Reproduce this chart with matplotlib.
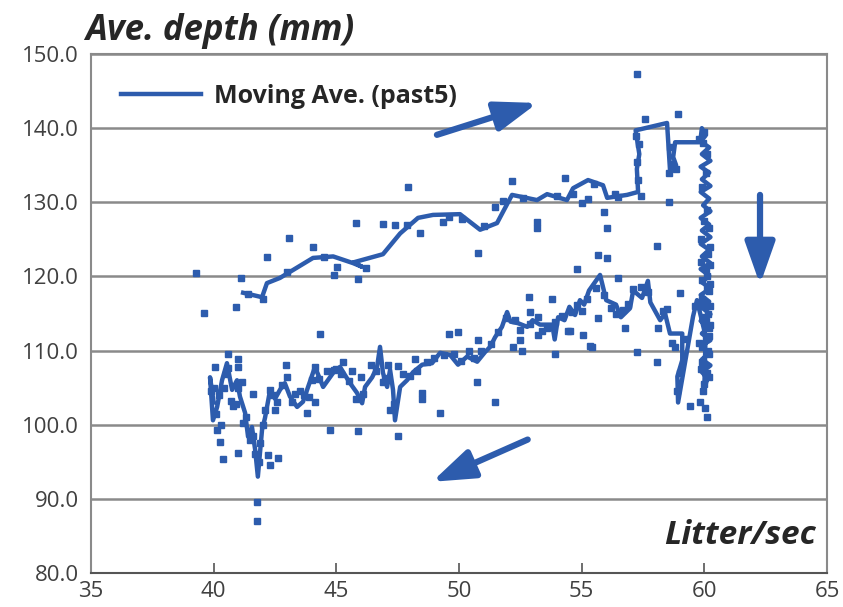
import matplotlib
matplotlib.use("Agg")
import matplotlib.pyplot as plt

plt.rcParams['font.family'] = ['Open Sans', 'DejaVu Sans']

BLUE = '#2d5cad'

# measured depth samples (flow in L/s, depth in mm)
dep_x = [57.26, 57.58, 58.93, 52.16, 54.32, 51.8, 55.26, 47.92, 54.65, 56.36,
         51.47, 55.0, 55.9, 58.56, 53.18, 53.18, 56.04, 48.41, 46.9, 47.39,
         49.35, 50.12, 50.78, 58.07, 55.67, 56.04, 54.81, 56.48, 52.86, 53.79,
         59.01, 58.48, 45.8, 43.07, 44.05, 42.17, 39.28, 41.11, 45.03, 44.9,
         45.88, 39.6, 40.91, 44.34, 49.6, 49.96, 50.78, 52.9, 52.49, 52.2,
         53.22, 53.9, 54.44, 55.06, 55.42, 55.67, 56.77, 41.0, 41.0, 40.58,
         40.06, 42.95, 45.27, 45.64, 44.13, 41.16, 41.6, 48.49, 48.49, 50.74,
         51.47, 49.23, 47.5, 47.1, 44.13, 42.3, 43.8, 40.14, 40.26, 40.38,
         41.0, 42.2, 42.62, 42.3, 44.74, 45.88, 47.5, 41.77, 41.77, 57.1,
         54.53, 55.34, 57.26, 58.07, 59.42, 59.83, 60.03, 60.1, 52.57,
         # along the 60 L/s drop
         60.0, 59.95, 60.1, 60.05, 59.9, 60.1, 60.0, 59.85, 60.15, 60.05,
         59.9, 60.2, 60.1, 59.95, 60.2, 60.05, 60.15, 59.9, 60.1, 60.0,
         59.95, 60.2, 60.1, 59.9, 60.25, 60.2, 59.85, 60.25, 60.15, 59.8,
         60.25, 60.2, 59.85, 60.1, 60.25, 59.9, 60.2, 60.05, 59.85, 60.25,
         58.6, 58.7, 58.55, 58.85, 57.3, 57.25, 57.35, 57.2, 59.8, 57.4,
         # rising branch
         43.0, 44.5, 46.2, 47.9, 49.6, 51.0, 52.6, 54.0, 55.5, 56.5, 42.0, 41.4,
         # falling branch
         58.8, 58.9, 59.2, 58.3, 57.7, 56.9, 56.2, 55.6, 55.0, 54.2,
         53.6, 52.9, 52.3, 51.9, 51.3, 50.6, 50.1, 49.4, 48.7, 48.0,
         47.35, 47.0, 46.6, 46.1, 45.5, 44.9, 44.3, 43.7, 43.2, 42.8,
         42.4, 42.0, 41.85, 41.6, 41.3, 41.0, 40.6, 40.4, 40.1, 39.9,
         40.3, 40.7, 42.5, 43.5, 46.0, 48.3, 50.4, 53.4, 54.8, 56.4,
         40.2, 40.5, 40.8, 41.2, 41.5, 41.9, 42.1, 42.6, 43.0, 43.3,
         43.9, 44.6, 45.2, 45.8, 46.4, 46.9, 47.7, 48.2, 49.0, 49.8,
         50.9, 51.6, 52.5, 53.2, 53.9, 54.6, 55.2, 55.9, 56.7, 57.4,
         58.1, 58.7, 59.0, 59.6, 40.0, 40.9, 41.7, 44.0, 45.0, 47.2]
dep_y = [147.3, 141.3, 141.9, 132.9, 133.3, 130.2, 130.5, 132.0, 131.1, 131.1,
         129.4, 129.9, 128.7, 130.0, 126.6, 127.3, 126.5, 125.8, 127.1, 127.0,
         127.4, 127.8, 123.2, 124.1, 122.9, 122.5, 121.0, 119.8, 117.2, 117.0,
         117.8, 115.6, 127.2, 125.2, 124.0, 122.6, 120.5, 119.8, 121.3, 120.2,
         119.7, 115.1, 115.9, 112.2, 112.2, 112.5, 111.4, 115.2, 111.4, 110.5,
         112.1, 109.6, 112.7, 112.1, 110.5, 114.4, 113.1, 108.8, 107.8, 109.5,
         107.8, 108.0, 108.5, 107.2, 107.8, 105.7, 104.1, 104.3, 103.5, 105.8,
         103.1, 101.6, 107.9, 108.0, 103.1, 104.7, 101.6, 99.3, 97.7, 95.4,
         96.2, 95.9, 95.5, 94.6, 99.3, 99.1, 98.5, 89.6, 87.0, 118.3,
         112.6, 110.6, 109.8, 108.4, 102.5, 103.1, 102.3, 101.1, 109.9,
         139.5, 138.0, 136.5, 134.0, 132.0, 129.0, 127.5, 125.0, 123.0, 121.0,
         119.5, 118.0, 116.0, 114.5, 113.0, 111.5, 110.0, 108.5, 107.0, 105.5,
         104.5, 112.0, 120.0, 117.0, 124.0, 126.5, 122.0, 119.0, 115.0, 111.0,
         113.5, 109.5, 116.5, 118.5, 121.5, 110.5, 106.5, 114.0, 107.5, 116.0,
         137.5, 135.2, 134.0, 134.5, 133.0, 135.5, 137.8, 139.0, 138.6, 130.8,
         120.6, 122.6, 121.1, 127.0, 128.0, 126.8, 130.6, 130.8, 132.5, 130.7, 117.0, 117.6,
         110.5, 104.5, 111.5, 115.3, 117.9, 116.3, 115.8, 118.4, 115.4, 114.6,
         113.0, 113.6, 114.1, 114.4, 110.9, 109.0, 108.6, 109.4, 108.4, 106.6,
         102.8, 106.3, 107.3, 104.2, 105.9, 107.4, 106.2, 104.0, 103.1, 105.3,
         104.0, 100.0, 95.0, 98.5, 101.0, 104.9, 107.6, 105.0, 101.5, 104.5,
         100.0, 103.2, 102.0, 104.5, 106.5, 107.3, 110.0, 112.6, 116.2, 114.9,
         104.0, 106.8, 102.5, 100.2, 98.0, 97.5, 102.0, 103.0, 106.5, 104.2,
         103.8, 107.2, 106.8, 103.5, 108.0, 105.8, 106.8, 108.8, 109.0, 109.5,
         110.0, 112.5, 112.8, 114.5, 113.8, 115.2, 117.0, 117.5, 115.5, 118.6,
         113.0, 111.0, 107.0, 116.0, 105.0, 102.8, 96.0, 106.0, 107.5, 102.0]

# moving average of the past 5 samples, in time order
ma_x = [41.2, 41.97, 42.17, 42.7, 44.05, 44.87, 45.68, 46.05, 45.7, 46.9,
        47.6, 48.33, 48.94, 50.04, 50.86, 51.55, 52.16, 53.18, 53.59, 54.4,
        54.65, 55.26, 55.87, 56.04, 56.85, 57.3, 57.25, 57.35, 57.2, 58.48,
        58.55, 58.6, 58.85, 58.73, 58.81, 59.83, 59.9,
        # the drop at 60 L/s (dense back-and-forth)
        60.05, 59.85, 60.2, 59.9, 60.25, 59.85, 60.2, 59.9, 60.25, 59.85,
        60.2, 59.95, 60.25, 59.85, 60.2, 59.9, 60.25, 59.85, 60.2, 59.9,
        60.25, 59.85, 60.2, 59.9, 60.25, 59.85, 60.2, 59.9, 60.25, 59.85,
        60.2, 59.9, 60.25, 59.85, 60.2, 59.9, 60.25, 59.9, 60.15, 59.95,
        60.1, 60.0,
        60.05, 59.7, 59.54, 58.93, 58.9, 59.1, 59.1, 58.6, 58.4,
        58.2, 57.8, 57.7, 57.46, 57.1, 56.97, 56.6, 56.4, 56.0, 55.75,
        55.3, 55.1, 54.93, 54.73, 54.5, 54.3, 54.04, 53.9, 53.8, 53.3,
        53.0, 52.78, 52.4, 52.1, 51.96, 51.75, 51.47, 51.27, 51.06, 50.74,
        50.33, 49.96, 49.64, 49.23, 48.9, 48.5, 48.13, 47.88, 47.6, 47.39,
        47.31, 47.19, 47.07, 46.9, 46.78, 46.66, 46.46, 46.17, 46.05, 45.84,
        45.56, 45.35, 45.15, 44.87, 44.46, 44.13, 43.85, 43.64, 43.4, 43.11,
        42.9, 42.7, 42.5, 42.3, 42.09, 41.97, 41.8, 41.69, 41.56, 41.4,
        41.28, 41.07, 40.95, 40.75, 40.54, 40.34, 40.14, 39.97, 39.85, 40.0]
ma_y = [117.8, 117.2, 119.1, 119.8, 122.5, 122.7, 121.8, 121.3, 121.9, 123.0,
        125.8, 127.9, 128.3, 128.4, 126.3, 127.2, 131.0, 130.3, 131.1, 130.3,
        131.9, 133.0, 132.3, 130.6, 131.0, 131.4, 134.5, 136.5, 139.7, 140.7,
        137.0, 134.4, 135.0, 136.1, 138.1, 138.1, 140.0,
        139.0, 138.2, 137.4, 136.5, 135.6, 134.8, 134.0, 133.1, 132.2, 131.4,
        130.5, 129.6, 128.8, 127.9, 127.0, 126.2, 125.3, 124.4, 123.6, 122.7,
        121.8, 121.0, 120.1, 119.2, 118.4, 117.5, 116.6, 115.8, 114.9, 114.0,
        113.2, 112.3, 111.4, 110.6, 109.7, 108.8, 108.0, 107.1, 106.2, 105.5,
        106.0, 104.8,
        112.0, 116.8, 114.6, 103.0, 106.5, 108.7, 112.3, 112.3, 115.0,
        114.1, 116.5, 119.4, 117.1, 118.1, 115.7, 114.5, 116.2, 116.8, 120.2,
        118.1, 116.2, 116.8, 114.8, 115.9, 114.1, 114.5, 111.5, 113.5, 113.5,
        114.1, 113.2, 113.7, 113.9, 115.2, 113.2, 111.8, 110.5, 109.8, 108.5,
        109.2, 108.1, 109.4, 109.7, 108.3, 108.1, 107.1, 106.0, 105.1, 100.6,
        104.7, 107.4, 105.1, 107.0, 110.5, 107.8, 106.4, 105.1, 102.9, 104.3,
        105.6, 106.7, 107.8, 107.0, 105.1, 107.8, 105.1, 103.1, 102.4, 103.8,
        105.6, 104.7, 103.5, 104.7, 100.9, 99.3, 93.0, 96.6, 99.7, 98.4,
        101.6, 103.8, 106.0, 104.7, 108.3, 106.0, 102.4, 100.6, 106.4, 103.0]

x_ticks = [35, 40, 45, 50, 55, 60, 65]
y_ticks = [80, 90, 100, 110, 120, 130, 140, 150]

fig = plt.figure(figsize=(8.43, 6.07), dpi=100)
ax = fig.add_axes([0.108, 0.056, 0.873, 0.855])

ax.set_xlim(35, 65)
ax.set_ylim(80, 150)
ax.set_xticks(x_ticks)
ax.set_yticks(y_ticks)
ax.set_yticklabels([f"{v:.1f}" for v in y_ticks])
ax.tick_params(axis='x', direction='in', length=7, width=1.2, color='#555555',
               labelsize=16, labelcolor='#404040', pad=6)
ax.tick_params(axis='y', length=0, labelsize=16, labelcolor='#404040', pad=9)

ax.grid(axis='y', color='#8a8a8a', lw=1.8)
ax.set_axisbelow(True)
for side in ['left', 'right', 'top']:
    ax.spines[side].set_color('#8a8a8a')
    ax.spines[side].set_linewidth(1.5)
ax.spines['bottom'].set_color('#555555')
ax.spines['bottom'].set_linewidth(1.5)

ax.plot(dep_x, dep_y, 's', ms=4, color=BLUE, ls='none', zorder=3)
ax.plot(ma_x, ma_y, color=BLUE, lw=3.2, solid_joinstyle='round', zorder=4,
        label='Moving Ave. (past5)')

arrow_style = dict(arrowstyle='-|>,head_length=0.85,head_width=0.3', lw=4.5,
                   color=BLUE, mutation_scale=30, shrinkA=0, shrinkB=0)
ax.annotate('', xy=(53.2, 143.4), xytext=(49.1, 139.1), arrowprops=arrow_style, zorder=5)
ax.annotate('', xy=(62.27, 118.9), xytext=(62.27, 131.0), arrowprops=arrow_style, zorder=5)
ax.annotate('', xy=(48.9, 92.3), xytext=(52.8, 98.0), arrowprops=arrow_style, zorder=5)

leg = ax.legend(loc='upper left', frameon=False, handlelength=3.2, handletextpad=0.5,
                borderaxespad=0.8, prop={'weight': 'bold', 'size': 18})
for t in leg.get_texts():
    t.set_color('#262626')

fig.text(85 / 843, 1 - 40 / 607, 'Ave. depth (mm)', fontsize=25, fontweight='bold',
         fontstyle='italic', color='#262626', va='baseline', ha='left')
ax.text(0.985, 0.055, 'Litter/sec', transform=ax.transAxes, fontsize=24,
        fontweight='bold', fontstyle='italic', color='#262626', ha='right', va='baseline')

fig.savefig('out.png', dpi=100)
